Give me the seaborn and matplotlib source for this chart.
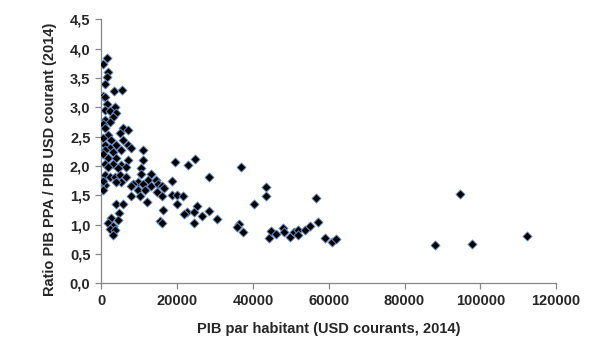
import matplotlib
matplotlib.use("Agg")
import matplotlib.pyplot as plt
import seaborn as sns
import pandas as pd
from matplotlib.ticker import FuncFormatter, MultipleLocator

# GDP per capita (thousand USD, current, 2014) and PPP/USD ratio
gdp_k = [
    1.37, 0.49, 1.81, 1.54, 0.93, 3.40, 5.34, 0.40, 0.93,
    1.5, 3.65, 0.8, 2.2, 3.9, 3.0, 0.8, 2.2, 0.4, 1.0, 5.7, 7.0, 4.8, 1.7, 0.4,
    2.6, 5.7, 0.8, 3.9, 7.0, 11.0, 2.2, 7.9, 0.8, 5.2, 3.0,
    0.4, 1.7, 3.9, 7.0, 11.0, 0.8, 3.0, 5.2, 6.6, 1.7, 10.5, 4.4, 10.5, 0.8,
    2.2, 3.5, 4.8, 6.6, 13.2, 12.3, 9.7, 8.3, 11.0, 5.2, 3.9, 0.8, 7.9, 13.2,
    0.4, 9.7, 11.4, 10.1, 7.9, 11.9, 3.9, 5.7, 0.4,
    4.63, 2.43, 4.45, 1.81, 3.13, 2.25, 3.57, 2.95,
    19.3, 22.8, 24.7, 28.5, 36.9,
    14.3, 15.0, 15.9, 16.6, 14.6, 15.9, 18.6, 18.6, 19.9, 21.6, 19.9, 16.3,
    22.5, 25.2, 24.3, 21.9, 28.3, 26.5, 30.5, 15.5, 15.9, 24.3, 36.2, 35.8,
    37.3, 40.2, 43.4, 43.5, 44.1, 44.8, 46.1, 47.9, 48.1, 49.9, 50.7, 51.8,
    51.8, 53.8, 55.0, 56.7, 57.1, 58.9, 60.9, 61.8,
    88.0, 94.6, 97.7, 112.4,
]
ratio = [
    3.84, 3.73, 3.60, 3.52, 3.39, 3.28, 3.29, 3.20, 3.18,
    3.05, 3.01, 2.95, 2.93, 2.90, 2.84, 2.78, 2.75, 2.71, 2.64, 2.64, 2.61, 2.56, 2.53, 2.47,
    2.44, 2.44, 2.36, 2.36, 2.36, 2.28, 2.30, 2.30, 2.27, 2.27, 2.24,
    2.21, 2.13, 2.13, 2.10, 2.10, 2.04, 2.04, 2.02, 1.99, 1.99, 1.96, 1.96, 1.87, 1.85,
    1.82, 1.82, 1.85, 1.82, 1.87, 1.76, 1.73, 1.70, 1.70, 1.73, 1.73, 1.67, 1.65, 1.65,
    1.59, 1.59, 1.59, 1.48, 1.48, 1.39, 1.36, 1.36, 1.75,
    1.19, 1.11, 1.08, 1.02, 0.97, 0.92, 0.90, 0.82,
    2.07, 2.02, 2.12, 1.81, 1.99,
    1.76, 1.70, 1.65, 1.62, 1.56, 1.48, 1.74, 1.50, 1.50, 1.49, 1.36, 1.25,
    1.22, 1.32, 1.22, 1.18, 1.24, 1.15, 1.10, 1.07, 1.03, 1.03, 1.01, 0.96,
    0.87, 1.35, 1.64, 1.48, 0.78, 0.89, 0.84, 0.95, 0.88, 0.79, 0.88, 0.91,
    0.83, 0.91, 0.98, 1.45, 1.05, 0.77, 0.71, 0.75,
    0.65, 1.52, 0.67, 0.81,
]

df = pd.DataFrame({"gdp": [v * 1000 for v in gdp_k], "ratio": ratio})

sns.set_style("white")
plt.rcParams["font.family"] = ["Liberation Sans", "DejaVu Sans"]

fig = plt.figure(figsize=(6.02, 3.62), dpi=100)
ax = fig.add_axes([0.1686, 0.2174, 0.7550, 0.7293])

sns.scatterplot(data=df, x="gdp", y="ratio", ax=ax, marker="D", s=22,
                color="black", edgecolor="#6E9BD8", linewidth=0.6, legend=False,
                zorder=3)

ax.set_xlim(0, 120000)
ax.set_ylim(0, 4.5)
ax.xaxis.set_major_locator(MultipleLocator(20000))
ax.yaxis.set_major_locator(MultipleLocator(0.5))
ax.yaxis.set_major_formatter(FuncFormatter(lambda v, p: f"{v:.1f}".replace(".", ",")))
ax.xaxis.set_major_formatter(FuncFormatter(lambda v, p: f"{int(round(v))}"))

for side in ["top", "right"]:
    ax.spines[side].set_visible(False)
for side in ["left", "bottom"]:
    ax.spines[side].set_color("#868686")
    ax.spines[side].set_linewidth(0.9)

ax.tick_params(axis="both", direction="out", length=4, width=0.9, color="#868686",
               labelsize=10.5, pad=4, left=True, bottom=True)
for lab in ax.get_xticklabels() + ax.get_yticklabels():
    lab.set_fontweight("bold")

ax.set_xlabel("PIB par habitant (USD courants, 2014)", fontsize=10.5, fontweight="bold")
ax.set_ylabel("Ratio PIB PPA / PIB USD courant (2014)", fontsize=10.5, fontweight="bold")
ax.xaxis.set_label_coords(0.5, -0.145)
ax.yaxis.set_label_coords(-0.098, 0.47)

fig.savefig("out.png", dpi=100)
